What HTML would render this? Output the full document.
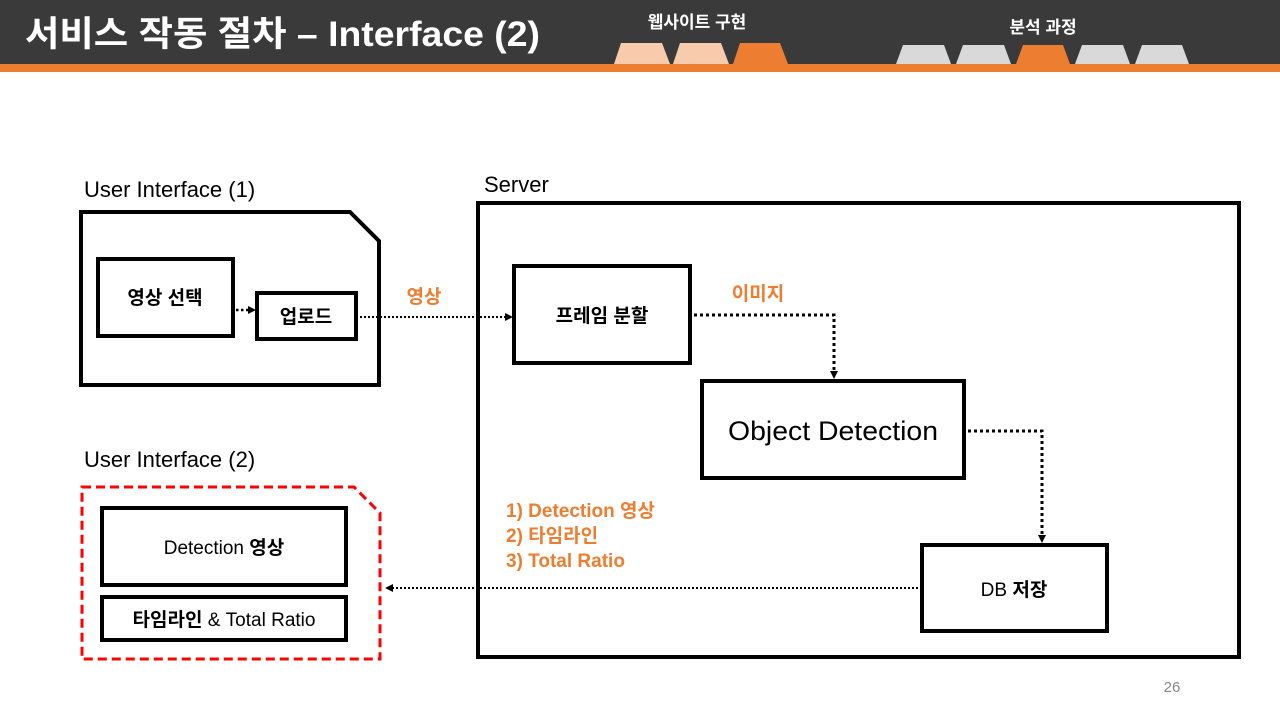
<!DOCTYPE html>
<html><head><meta charset="utf-8"><style>
body{margin:0;width:1280px;height:720px;overflow:hidden;background:#fff;font-family:"Liberation Sans","Noto Sans CJK KR",sans-serif}
svg text{font-family:"Liberation Sans","Noto Sans CJK KR",sans-serif}
</style></head><body>
<svg width="1280" height="720" xmlns="http://www.w3.org/2000/svg">
<defs>
<marker id="a" markerWidth="8" markerHeight="8" refX="7" refY="4" orient="auto" markerUnits="userSpaceOnUse"><path d="M0,0 L8,4 L0,8z" fill="#000"/></marker>
</defs>
<rect x="0" y="0" width="1280" height="64" fill="#3a3a3a"/>
<rect x="0" y="64" width="1280" height="8" fill="#ed7d31"/>
<text x="25" y="46" font-size="35" font-weight="bold" fill="#fff" textLength="515" lengthAdjust="spacingAndGlyphs">서비스 작동 절차 – Interface (2)</text>
<text x="697" y="28" font-size="17" font-weight="bold" fill="#fff" text-anchor="middle">웹사이트 구현</text>
<text x="1043" y="33" font-size="17" font-weight="bold" fill="#fff" text-anchor="middle">분석 과정</text>
<g>
<path d="M614,64 L621,43 L662,43 L670,64z" fill="#f8cbad"/>
<path d="M673,64 L680,43 L721,43 L729,64z" fill="#f8cbad"/>
<path d="M733,64 L740,43 L780,43 L788,64z" fill="#ed7d31"/>
<path d="M896,64 L903,45 L944,45 L951,64z" fill="#d9d9d9"/>
<path d="M956,64 L963,45 L1004,45 L1011,64z" fill="#d9d9d9"/>
<path d="M1016,64 L1023,45 L1063,45 L1070,64z" fill="#ed7d31"/>
<path d="M1075,64 L1082,45 L1123,45 L1130,64z" fill="#d9d9d9"/>
<path d="M1135,64 L1142,45 L1182,45 L1189,64z" fill="#d9d9d9"/>
</g>
<text x="84" y="197" font-size="22" fill="#000">User Interface (1)</text>
<text x="84" y="467" font-size="22" fill="#000">User Interface (2)</text>
<text x="484" y="192" font-size="22" fill="#000">Server</text>
<path d="M81,212 L350,212 L379,241 L379,385 L81,385z" fill="none" stroke="#000" stroke-width="4"/>
<rect x="98" y="259" width="135" height="77" fill="none" stroke="#000" stroke-width="4"/>
<text x="165" y="304" font-size="19" font-weight="bold" text-anchor="middle">영상 선택</text>
<rect x="257" y="293" width="99" height="46" fill="none" stroke="#000" stroke-width="4"/>
<text x="306" y="323" font-size="19" font-weight="bold" text-anchor="middle">업로드</text>
<line x1="236" y1="310" x2="255" y2="310" stroke="#000" stroke-width="2.5" stroke-dasharray="2.5 2.5" marker-end="url(#a)"/>
<line x1="360" y1="317" x2="512" y2="317" stroke="#000" stroke-width="2" stroke-dasharray="2 2" marker-end="url(#a)"/>
<text x="424" y="303" font-size="19" font-weight="bold" fill="#ed7d31" text-anchor="middle">영상</text>
<rect x="478" y="203" width="761" height="454" fill="none" stroke="#000" stroke-width="4"/>
<rect x="514" y="266" width="176" height="97" fill="none" stroke="#000" stroke-width="4"/>
<text x="602" y="322" font-size="19" font-weight="bold" text-anchor="middle">프레임 분할</text>
<text x="758" y="300" font-size="19" font-weight="bold" fill="#ed7d31" text-anchor="middle">이미지</text>
<path d="M694,315 L834,315 L834,378" fill="none" stroke="#000" stroke-width="3" stroke-dasharray="3 3" marker-end="url(#a)"/>
<rect x="702" y="381" width="262" height="97" fill="none" stroke="#000" stroke-width="4"/>
<text x="833" y="440" font-size="27" text-anchor="middle" textLength="210" lengthAdjust="spacingAndGlyphs">Object Detection</text>
<path d="M968,431 L1042,431 L1042,542" fill="none" stroke="#000" stroke-width="3" stroke-dasharray="3 3" marker-end="url(#a)"/>
<rect x="922" y="545" width="185" height="86" fill="none" stroke="#000" stroke-width="4"/>
<text x="1014" y="596" font-size="19" text-anchor="middle">DB <tspan font-weight="bold">저장</tspan></text>
<line x1="918" y1="588" x2="386" y2="588" stroke="#000" stroke-width="2" stroke-dasharray="2 2" marker-end="url(#a)"/>
<g font-size="19" font-weight="bold" fill="#ed7d31">
<text x="506" y="517">1) Detection 영상</text>
<text x="506" y="542">2) 타임라인</text>
<text x="506" y="567">3) Total Ratio</text>
</g>
<path d="M82,487 L354,487 L380,513 L380,659 L82,659z" fill="none" stroke="#f00" stroke-width="3" stroke-dasharray="9 5"/>
<rect x="102" y="508" width="244" height="77" fill="none" stroke="#000" stroke-width="4"/>
<text x="224" y="554" font-size="19" text-anchor="middle">Detection <tspan font-weight="bold">영상</tspan></text>
<rect x="102" y="597" width="244" height="43" fill="none" stroke="#000" stroke-width="4"/>
<text x="224" y="626" font-size="19" text-anchor="middle"><tspan font-weight="bold">타임라인</tspan> &amp; Total Ratio</text>
<text x="1172" y="692" font-size="15" fill="#888" text-anchor="middle">26</text>
</svg>
</body></html>
